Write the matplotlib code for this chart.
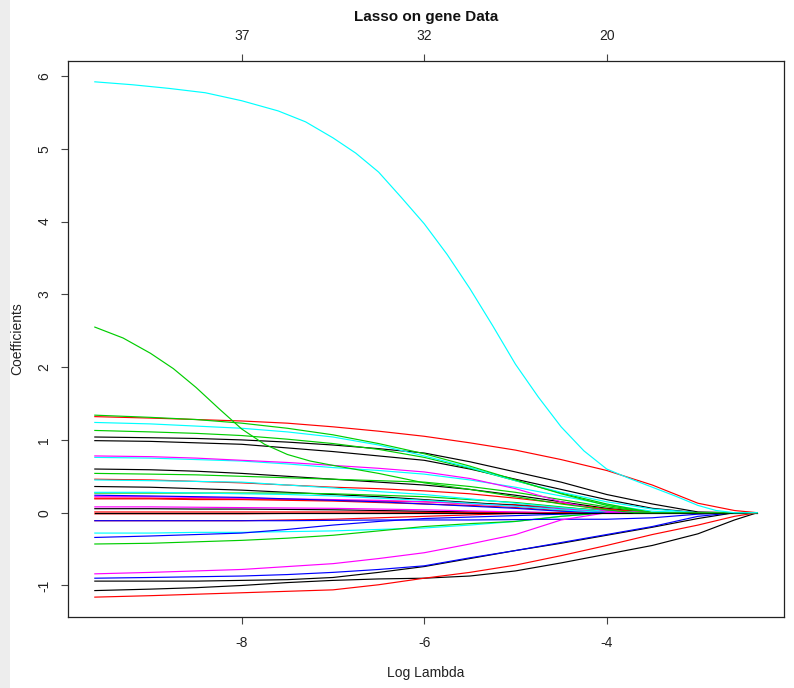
import numpy as np
import matplotlib
matplotlib.use("Agg")
import matplotlib.pyplot as plt

plt.rcParams['font.family'] = ['Liberation Sans', 'DejaVu Sans']

# log(lambda) knots where the coefficient paths were read
log_lambda = [-9.61, -9.0, -8.5, -8.0, -7.5, -7.0, -6.5, -6.0,
              -5.5, -5.0, -4.5, -4.0, -3.5, -3.0, -2.6, -2.35]

# R default palette used by glmnet
BLACK, RED, GREEN, BLUE, CYAN, MAGENTA = "#000000", "#FF0000", "#00CD00", "#0000FF", "#00FFFF", "#FF00FF"

# coefficient value of each gene along log_lambda
path_colors = [RED, BLACK, RED, RED, RED, MAGENTA, BLACK, RED, MAGENTA, BLUE,
               GREEN, CYAN, BLACK, RED, CYAN, BLACK, GREEN, RED, CYAN, BLACK,
               BLACK, GREEN, CYAN, GREEN, MAGENTA, CYAN, GREEN, BLUE, BLUE,
               MAGENTA, BLUE, BLACK, BLACK, RED]
coef_paths = [
    [0.01, 0.01, 0.01, 0.01, 0.01, 0.01, 0.01, 0.005, 0, 0, 0, 0, 0, 0, 0, 0],
    [0.055, 0.055, 0.05, 0.05, 0.045, 0.04, 0.03, 0.02, 0.01, 0.005, 0, 0, 0, 0, 0, 0],
    [-0.015, -0.015, -0.015, -0.015, -0.01, -0.01, -0.01, -0.005, 0, 0, 0, 0, 0, 0, 0, 0],
    [0.20, 0.20, 0.19, 0.19, 0.18, 0.17, 0.16, 0.15, 0.13, 0.11, 0.07, 0.03, 0, 0, 0, 0],
    [0.19, 0.19, 0.18, 0.18, 0.17, 0.16, 0.14, 0.12, 0.10, 0.07, 0.03, 0, 0, 0, 0, 0],
    [0.08, 0.08, 0.075, 0.07, 0.065, 0.06, 0.05, 0.04, 0.025, 0.01, 0, 0, 0, 0, 0, 0],
    [0.36, 0.35, 0.33, 0.31, 0.28, 0.25, 0.22, 0.18, 0.14, 0.10, 0.05, 0.01, 0, 0, 0, 0],
    [-0.11, -0.11, -0.11, -0.11, -0.10, -0.09, -0.07, -0.05, -0.03, -0.01, 0, 0, 0, 0, 0, 0],
    [0.22, 0.22, 0.21, 0.20, 0.19, 0.18, 0.17, 0.15, 0.12, 0.09, 0.05, 0.01, 0, 0, 0, 0],
    [0.24, 0.23, 0.22, 0.21, 0.19, 0.17, 0.15, 0.12, 0.09, 0.06, 0.02, 0, 0, 0, 0, 0],
    [0.27, 0.27, 0.27, 0.27, 0.27, 0.26, 0.24, 0.22, 0.18, 0.14, 0.08, 0.02, 0, 0, 0, 0],
    [0.28, 0.28, 0.27, 0.26, 0.25, 0.23, 0.20, 0.17, 0.13, 0.09, 0.04, 0, 0, 0, 0, 0],
    [0.60, 0.59, 0.57, 0.54, 0.50, 0.46, 0.42, 0.38, 0.32, 0.24, 0.15, 0.06, 0, 0, 0, 0],
    [0.46, 0.45, 0.43, 0.41, 0.38, 0.35, 0.33, 0.30, 0.26, 0.20, 0.13, 0.05, 0, 0, 0, 0],
    [0.45, 0.44, 0.43, 0.42, 0.38, 0.34, 0.29, 0.25, 0.19, 0.13, 0.07, 0.02, 0, 0, 0, 0],
    [0.99, 0.98, 0.96, 0.94, 0.89, 0.84, 0.78, 0.72, 0.60, 0.46, 0.32, 0.18, 0.06, 0, 0, 0],
    [0.54, 0.53, 0.52, 0.50, 0.48, 0.46, 0.44, 0.42, 0.36, 0.28, 0.18, 0.08, 0, 0, 0, 0],
    [1.32, 1.30, 1.28, 1.26, 1.23, 1.18, 1.12, 1.05, 0.96, 0.86, 0.73, 0.58, 0.38, 0.13, 0.03, 0],
    [0.76, 0.75, 0.73, 0.71, 0.67, 0.62, 0.58, 0.53, 0.45, 0.35, 0.23, 0.11, 0.02, 0, 0, 0],
    [1.04, 1.03, 1.02, 1.00, 0.97, 0.93, 0.88, 0.82, 0.70, 0.56, 0.42, 0.25, 0.12, 0.01, 0, 0],
    [-0.94, -0.94, -0.94, -0.93, -0.92, -0.89, -0.82, -0.74, -0.63, -0.52, -0.42, -0.31, -0.20, -0.08, 0, 0],
    [1.13, 1.11, 1.09, 1.06, 1.01, 0.95, 0.87, 0.76, 0.61, 0.44, 0.27, 0.12, 0, 0, 0, 0],
    [1.24, 1.22, 1.19, 1.16, 1.11, 1.04, 0.93, 0.78, 0.62, 0.44, 0.28, 0.15, 0.05, 0, 0, 0],
    [1.34, 1.31, 1.28, 1.23, 1.16, 1.07, 0.95, 0.81, 0.64, 0.45, 0.26, 0.10, 0, 0, 0, 0],
    [0.78, 0.77, 0.75, 0.72, 0.69, 0.65, 0.61, 0.56, 0.47, 0.33, 0.15, 0.02, 0, 0, 0, 0],
    [-0.28, -0.28, -0.27, -0.27, -0.26, -0.25, -0.23, -0.21, -0.17, -0.12, -0.05, 0, 0, 0, 0, 0],
    [-0.43, -0.42, -0.40, -0.38, -0.35, -0.31, -0.25, -0.19, -0.15, -0.12, -0.05, 0, 0, 0, 0, 0],
    [-0.34, -0.32, -0.30, -0.28, -0.23, -0.17, -0.12, -0.08, -0.06, -0.04, -0.02, 0, 0, 0, 0, 0],
    [-0.11, -0.11, -0.11, -0.11, -0.11, -0.105, -0.10, -0.10, -0.10, -0.095, -0.09, -0.09, -0.07, -0.02, 0, 0],
    [-0.84, -0.82, -0.80, -0.78, -0.74, -0.70, -0.63, -0.55, -0.43, -0.30, -0.10, 0, 0, 0, 0, 0],
    [-0.90, -0.89, -0.88, -0.87, -0.85, -0.82, -0.78, -0.73, -0.62, -0.52, -0.41, -0.30, -0.19, -0.05, 0, 0],
    [-1.07, -1.05, -1.03, -1.00, -0.96, -0.93, -0.91, -0.90, -0.87, -0.80, -0.69, -0.57, -0.45, -0.29, -0.10, 0],
    [0.0, 0.0, 0.0, 0.0, 0.0, 0.0, 0.0, 0.0, 0.0, 0.0, 0.0, 0.0, 0.0, 0.0, 0.0, 0.0],
    [-1.16, -1.14, -1.12, -1.10, -1.08, -1.06, -0.99, -0.90, -0.82, -0.72, -0.59, -0.45, -0.30, -0.17, -0.05, 0],
]

# the two large coefficients, read on a finer lambda grid
cyan_lambda = [-9.61, -9.2, -8.8, -8.4, -8.0, -7.6, -7.3, -7.0, -6.75, -6.5, -6.25,
               -6.0, -5.75, -5.5, -5.25, -5.0, -4.75, -4.5, -4.25, -4.0, -3.75,
               -3.5, -3.25, -3.0, -2.8, -2.6, -2.35]
cyan_coef = [5.92, 5.88, 5.83, 5.77, 5.66, 5.52, 5.37, 5.15, 4.94, 4.68, 4.33,
             3.97, 3.55, 3.08, 2.57, 2.04, 1.59, 1.18, 0.85, 0.60, 0.47,
             0.35, 0.23, 0.10, 0.03, 0.0, 0.0]
green_lambda = [-9.61, -9.3, -9.0, -8.75, -8.5, -8.25, -8.0, -7.75, -7.5, -7.25,
                -7.0, -6.5, -6.0, -5.5, -5.0, -4.5, -4.0, -3.7, -2.35]
green_coef = [2.55, 2.40, 2.19, 1.98, 1.72, 1.43, 1.15, 0.94, 0.80, 0.71,
              0.65, 0.54, 0.41, 0.32, 0.22, 0.12, 0.04, 0.0, 0.0]

x_ticks = [-8, -6, -4]
df_labels = ["37", "32", "20"]
y_ticks = [-1, 0, 1, 2, 3, 4, 5, 6]

W, H = 794, 688
fig = plt.figure(figsize=(W / 100, H / 100), dpi=100)

# grey strip on the far left of the window capture
strip = np.full((H, 10, 3), 0.93)
fig.figimage(strip, xo=0, yo=0, zorder=0)

ax = fig.add_axes([68 / W, 1 - 617 / H, (784 - 68) / W, (617 - 61) / H])
ax.set_facecolor("none")

for coefs, c in zip(coef_paths, path_colors):
    ax.plot(log_lambda, coefs, color=c, lw=0.85, solid_joinstyle="round")
ax.plot(green_lambda, green_coef, color=GREEN, lw=0.85)
ax.plot(cyan_lambda, cyan_coef, color=CYAN, lw=0.85)

ax.set_xlim(-9.904, -2.057)
ax.set_ylim(-1.433, 6.206)

for s in ax.spines.values():
    s.set_color("#222222")
    s.set_linewidth(0.9)

ax.set_xticks(x_ticks)
ax.set_xticklabels([str(t) for t in x_ticks])
ax.set_yticks(y_ticks)
ax.set_yticklabels([str(t) for t in y_ticks], rotation=90, va="center")
ax.tick_params(axis="both", direction="out", length=5, width=0.8, color="#444444",
               labelsize=10, labelcolor="#222222")
ax.tick_params(axis="x", pad=9)
ax.tick_params(axis="y", pad=7)

# number of nonzero coefficients along the top
top = ax.secondary_xaxis("top")
top.set_xticks(x_ticks)
top.set_xticklabels(df_labels)
top.tick_params(direction="out", length=5, width=0.8, color="#444444",
                labelsize=10, labelcolor="#222222", pad=8)
top.spines["top"].set_visible(False)

fig.text(426 / W, 1 - 17 / H, "Lasso on gene Data", ha="center", va="center",
         fontsize=11, fontweight="bold", color="#111111")
fig.text(426 / W, 1 - 673 / H, "Log Lambda", ha="center", va="center",
         fontsize=10, color="#222222")
fig.text(17 / W, 1 - 339 / H, "Coefficients", ha="center", va="center",
         rotation=90, fontsize=10, color="#222222")

fig.savefig("out.png", dpi=100)
